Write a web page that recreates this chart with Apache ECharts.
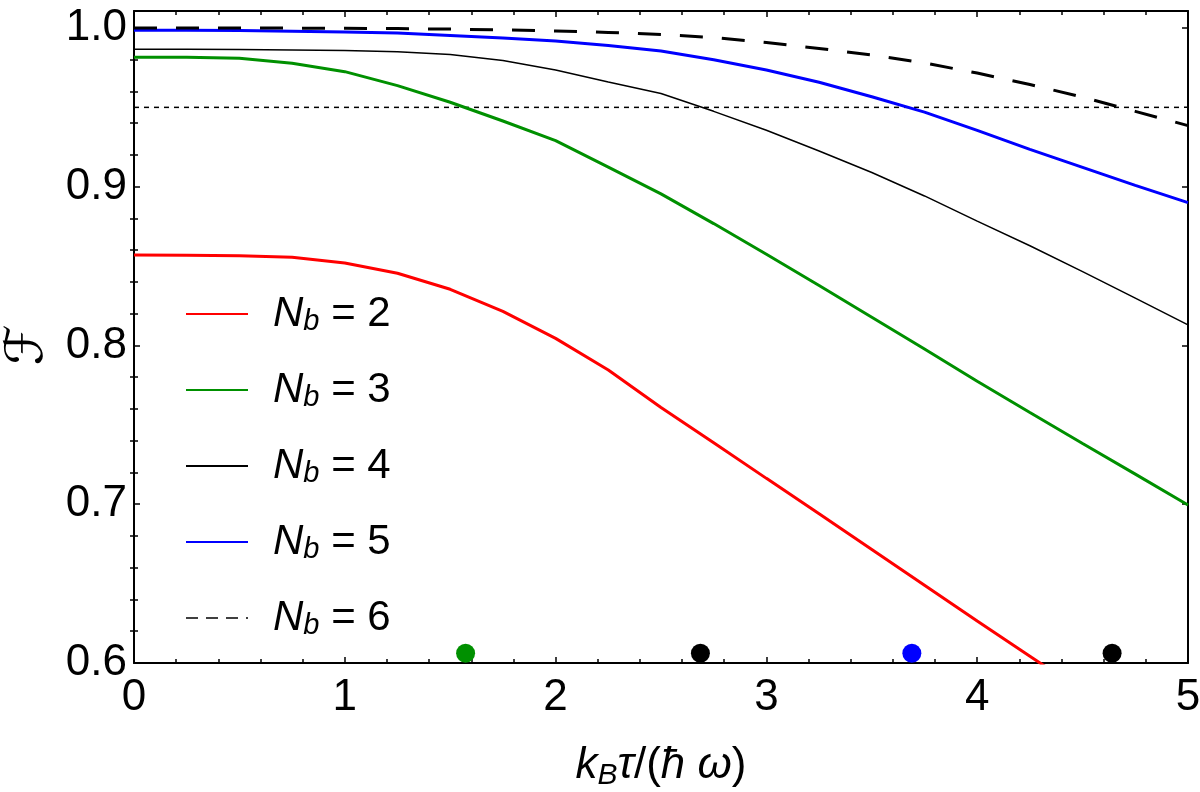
<!DOCTYPE html>
<html><head><meta charset="utf-8">
<script src="https://cdn.jsdelivr.net/npm/echarts@6/dist/echarts.min.js"></script>
<style>html,body{margin:0;padding:0;background:#fff}#c{width:1200px;height:792px}</style>
</head><body><div id="c"></div>
<script>
// ---- data ----
const xVals = [0, 0.25, 0.5, 0.75, 1, 1.25, 1.5, 1.75, 2, 2.25, 2.5, 2.75, 3, 3.25, 3.5, 3.75, 4, 4.25, 4.5, 4.75, 5];
const nb2 = [0.857, 0.8569, 0.8566, 0.8556, 0.852, 0.8455, 0.8354, 0.8215, 0.8045, 0.7846, 0.761, 0.7388, 0.7163, 0.694, 0.6715, 0.649, 0.6265, 0.6043, 0.582];
const nb3 = [0.9815, 0.9815, 0.981, 0.9778, 0.9725, 0.9637, 0.9532, 0.9414, 0.929, 0.9124, 0.8955, 0.8768, 0.8575, 0.8378, 0.8178, 0.7978, 0.7775, 0.7578, 0.7383, 0.719, 0.6995];
const nb4 = [0.9866, 0.9866, 0.9865, 0.9862, 0.9858, 0.985, 0.9833, 0.9795, 0.9735, 0.966, 0.9587, 0.9475, 0.9356, 0.9225, 0.909, 0.8942, 0.8783, 0.8628, 0.8465, 0.8298, 0.813];
const nb5 = [0.9985, 0.9985, 0.9984, 0.998, 0.9975, 0.9968, 0.9953, 0.9937, 0.9918, 0.989, 0.9855, 0.98, 0.9735, 0.9658, 0.9567, 0.947, 0.9355, 0.9235, 0.9122, 0.9009, 0.89];
const nb6 = [1.0, 1.0, 1.0, 0.9999, 0.9998, 0.9996, 0.9993, 0.9988, 0.9981, 0.9972, 0.9959, 0.994, 0.9909, 0.9871, 0.983, 0.978, 0.9716, 0.9644, 0.9565, 0.9475, 0.9385];
const thresholdY = 0.95;
const markX = [1.573, 2.687, 3.69, 4.64];
const markY = [0.6061, 0.6061, 0.6061, 0.6061];
const markColors = ['#009000', '#000000', '#0000ff', '#000000'];
const seriesNames = ['2', '3', '4', '5', '6'];
const xMajor = [0, 1, 2, 3, 4, 5];
const yMajor = [0.6, 0.7, 0.8, 0.9, 1.0];
const yMinor = [0.62, 0.64, 0.66, 0.68, 0.72, 0.74, 0.76, 0.78, 0.82, 0.84, 0.86, 0.88, 0.92, 0.94, 0.96, 0.98];

// ---- chart ----
const FONT = 'Liberation Sans, Arial, sans-serif';
const zip = (ys) => ys.map((y, i) => [xVals[i], y]);
const colors = ['#ff0000', '#009000', '#000000', '#0000ff', '#000000'];
const widths = [3, 3, 1.5, 3, 3];
const types = ['solid', 'solid', 'solid', 'solid', [23, 19]];
const allData = [nb2, nb3, nb4, nb5, nb6];

const series = [];
series.push({
  type: 'line', name: 'thr', data: [[xMajor[0], thresholdY], [xMajor[xMajor.length - 1], thresholdY]],
  symbol: 'none', silent: true, lineStyle: { color: '#000', width: 1.5, type: [5, 5] }, z: 1
});
allData.forEach((d, k) => {
  series.push({
    type: 'line', name: seriesNames[k], data: zip(d), symbol: 'none', showSymbol: false,
    clip: true, lineStyle: { color: colors[k], width: widths[k], type: types[k] },
    itemStyle: { color: colors[k] }, z: 2 + k
  });
});
series.push({
  type: 'scatter', name: 'marks', symbolSize: 19, z: 10,
  data: markX.map((x, i) => ({ value: [x, markY[i]], itemStyle: { color: markColors[i], opacity: 1 } }))
});

const tickLine = { color: '#000', width: 1.5 };
const axisLine = { show: true, onZero: false, lineStyle: { color: '#000', width: 2 } };
const xBase = {
  type: 'value', min: 0, max: 5, interval: 1, axisLine: axisLine,
  axisTick: { show: true, inside: true, length: 6, lineStyle: tickLine },
  minorTick: { show: true, splitNumber: 5, length: 4, lineStyle: tickLine },
  splitLine: { show: false }, minorSplitLine: { show: false }
};
const yRange = { type: 'value', min: 0.6, max: 1.0107, splitLine: { show: false } };

const option = {
  animation: false,
  backgroundColor: '#fff',
  grid: { left: 134, right: 12, top: 11, bottom: 129, containLabel: false, outerBoundsMode: 'none' },
  xAxis: [
    Object.assign({}, xBase, {
      position: 'bottom',
      axisLabel: { fontSize: 44, color: '#000', fontFamily: FONT, margin: 13 },
      name: '{i|k}{s|B}{i|τ}{n|/(}{i|ħ ω}{n|)}', nameLocation: 'middle', nameGap: 78,
      nameTextStyle: {
        color: '#000', fontFamily: FONT, fontSize: 44,
        rich: {
          i: { fontStyle: 'italic', fontSize: 44, fontFamily: FONT, color: '#000', lineHeight: 50 },
          n: { fontSize: 44, fontFamily: FONT, color: '#000', lineHeight: 50 },
          s: { fontStyle: 'italic', fontSize: 30, fontFamily: FONT, color: '#000', verticalAlign: 'bottom', lineHeight: 24 }
        }
      }
    }),
    Object.assign({}, xBase, { position: 'top', axisLabel: { show: false } })
  ],
  yAxis: [
    Object.assign({}, yRange, {
      position: 'left', axisLine: axisLine,
      axisTick: { show: true, inside: true, length: 6, lineStyle: tickLine, customValues: yMajor },
      axisLabel: { customValues: yMajor, formatter: v => v.toFixed(1), fontSize: 44, color: '#000', fontFamily: FONT, margin: 7 },
      name: 'ℱ', nameLocation: 'middle', nameGap: 71, nameRotate: 90,
      nameTextStyle: { fontSize: 52, color: '#000', fontFamily: 'DejaVu Serif, DejaVu Sans, serif', padding: [0, 16, 0, 0] }
    }),
    Object.assign({}, yRange, {
      position: 'left', axisLine: { show: false },
      axisTick: { show: true, inside: true, length: 4, lineStyle: tickLine, customValues: yMinor },
      axisLabel: { show: false }
    }),
    Object.assign({}, yRange, {
      position: 'right', axisLine: axisLine,
      axisTick: { show: true, inside: true, length: 6, lineStyle: tickLine, customValues: yMajor },
      axisLabel: { show: false }
    }),
    Object.assign({}, yRange, {
      position: 'right', axisLine: { show: false },
      axisTick: { show: true, inside: true, length: 4, lineStyle: tickLine, customValues: yMinor },
      axisLabel: { show: false }
    })
  ],
  legend: {
    orient: 'vertical', left: 180, top: 288, itemWidth: 62, itemHeight: 14, itemGap: 33,
    data: seriesNames.map((n, k) => ({ name: n, lineStyle: k === 4 ? { type: [12, 8], width: 1.5 } : { width: 2 } })),
    lineStyle: { width: 2 },
    itemStyle: { opacity: 0 },
    formatter: n => '{g|}{i|N}{s|b}{n| = ' + n + '}',
    textStyle: {
      color: '#000', fontFamily: FONT, fontSize: 42,
      rich: {
        g: { width: 20 },
        i: { fontStyle: 'italic', fontSize: 42, fontFamily: FONT, color: '#000', lineHeight: 44 },
        n: { fontSize: 42, fontFamily: FONT, color: '#000', lineHeight: 44 },
        s: { fontStyle: 'italic', fontSize: 29, fontFamily: FONT, color: '#000', verticalAlign: 'bottom', lineHeight: 22 }
      }
    }
  },
  series: series
};
const chart = echarts.init(document.getElementById('c'), null, { renderer: 'canvas' });
chart.setOption(option);
</script></body></html>
